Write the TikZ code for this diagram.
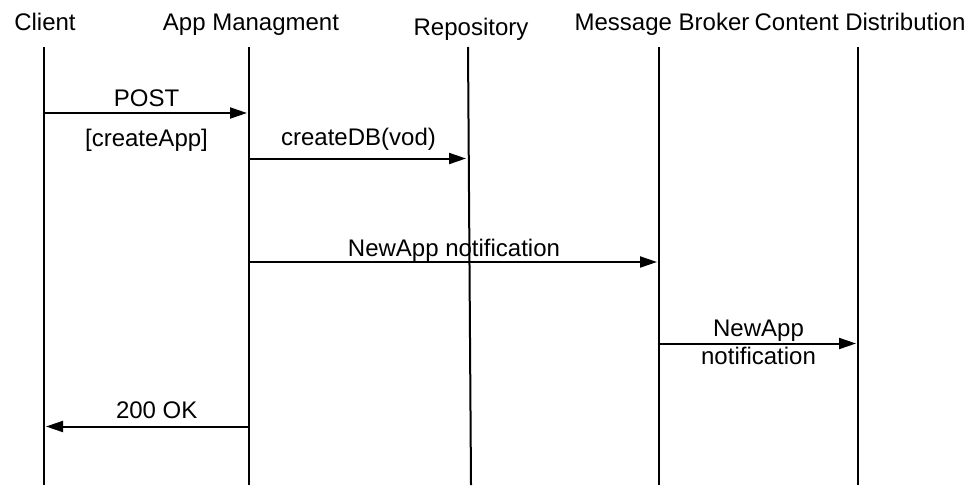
\documentclass[tikz,border=0pt]{standalone}
\usepackage{fontspec}
\setmainfont{Liberation Sans}
\usetikzlibrary{arrows.meta, positioning, calc}

\begin{document}
\begin{tikzpicture}[
  x=0.5pt, y=-0.5pt,
  font=\fontsize{12}{14}\selectfont,
  actor/.style={anchor=base, inner sep=0pt},
  lifeline/.style={line width=1pt},
  msg/.style={-{Triangle[length=8.5pt, width=5.5pt]}, line width=1pt, shorten >=1pt},
  lbl/.style={anchor=base, inner sep=0pt, pos=0.5}
]
\useasboundingbox (0,0) rectangle (978,498);

% participants
\node[actor] (client) at (45,30.5) {Client};
\node[actor] (app) at (251,30.5) {App Managment};
\node[actor] (repo) at (471,35) {Repository};
\node[actor] (broker) at (662,30.5) {Message Broker};
\node[actor] (cdn) at (860,30.5) {Content Distribution};

% lifelines
\coordinate (clientTop) at (44,47);   \coordinate (clientBot) at (44,485);
\coordinate (appTop) at (249,47);     \coordinate (appBot) at (249,485);
\coordinate (repoTop) at (468,47);    \coordinate (repoBot) at (471,485);
\coordinate (brokerTop) at (659,47);  \coordinate (brokerBot) at (659,485);
\coordinate (cdnTop) at (858,47);     \coordinate (cdnBot) at (858,485);
\draw[lifeline] (clientTop) -- (clientBot);
\draw[lifeline] (appTop) -- (appBot);
\draw[lifeline] (repoTop) -- (repoBot);
\draw[lifeline] (brokerTop) -- (brokerBot);
\draw[lifeline] (cdnTop) -- (cdnBot);

% message rows
\coordinate (m1) at (0,113);
\coordinate (m2) at (0,158.5);
\coordinate (m3) at (0,262);
\coordinate (m4) at (0,343.5);
\coordinate (m5) at (0,426.5);

\draw[msg] (clientTop |- m1) -- (appTop |- m1)
  node[lbl, yshift=3.5pt] {POST}
  node[lbl, yshift=-16.5pt] {[createApp]};
\draw[msg] (appTop |- m2) -- (repoTop |- m2)
  node[lbl, yshift=6.5pt] {createDB(vod)};
\draw[msg] (appTop |- m3) -- (brokerTop |- m3)
  node[lbl, yshift=3pt] {NewApp notification};
\draw[msg] (brokerTop |- m4) -- (cdnTop |- m4)
  node[lbl, yshift=3.3pt] {NewApp}
  node[lbl, yshift=-10.4pt] {notification};
\draw[msg] (appTop |- m5) -- (clientTop |- m5)
  node[lbl, pos=0.45, yshift=3.8pt] {200 OK};
\end{tikzpicture}
\end{document}
